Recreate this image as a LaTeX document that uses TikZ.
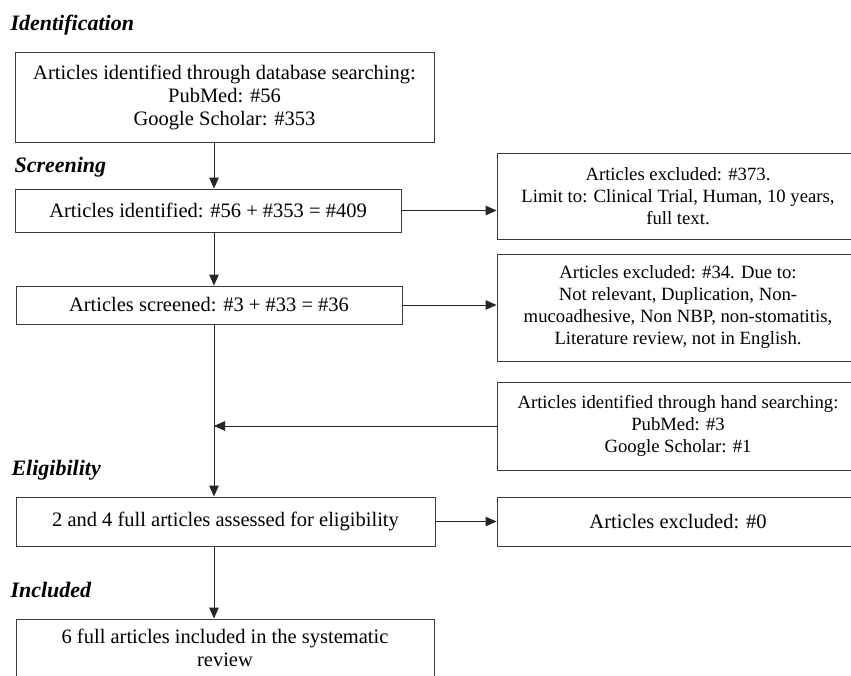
\documentclass[tikz,border=0pt]{standalone}
\usepackage{fontspec}
\setmainfont{Liberation Serif}
\usepackage{tikz}
\usetikzlibrary{arrows.meta, positioning}
\usepackage{xcolor}
\definecolor{flowline}{HTML}{3A3A3A}

\begin{document}
\begin{tikzpicture}[
    x=1pt, y=-1pt,
    box/.style={rectangle, draw=flowline, line width=0.9pt, align=center,
                inner sep=0pt, font=\fontsize{20.5}{23}\selectfont},
    sidebox/.style={box, font=\fontsize{18.7}{22}\selectfont},
    arr/.style={-{Triangle[length=11pt, width=9.5pt]}, line width=0.9pt, color=black!85},
    stage/.style={anchor=west, font=\fontsize{22}{24}\selectfont\bfseries\itshape}
  ]
    \useasboundingbox (0,0) rectangle (851,675);
    \coordinate (spine) at (214,0);

    %% Identification
    \node[stage] (lid) at (7,25) {Identification};
    \node[box, minimum width=419pt, minimum height=90pt] (dbsearch) at (224.5,97)
        {Articles identified through database searching:\\PubMed: \#56\\Google Scholar: \#353};

    %% Screening
    \node[stage] (lscr) at (11,167) {Screening};
    \node[box, minimum width=386pt, minimum height=43pt] (ident) at (208,210.5)
        {Articles identified: \#56 + \#353 = \#409};
    \node[sidebox, minimum width=362pt, minimum height=86pt] (excl1) at (678,196)
        {Articles excluded: \#373.\\Limit to: Clinical Trial, Human, 10 years,\\full text.};
    \node[box, minimum width=386pt, minimum height=38pt] (screen) at (209,305)
        {Articles screened: \#3 + \#33 = \#36};
    \node[sidebox, minimum width=362pt, minimum height=107pt] (excl2) at (678,307.5)
        {Articles excluded: \#34. Due to:\\Not relevant, Duplication, Non-\\mucoadhesive, Non NBP, non-stomatitis,\\Literature review, not in English.};
    \node[sidebox, minimum width=362pt, minimum height=88pt] (hand) at (678,426)
        {Articles identified through hand searching:\\PubMed: \#3\\Google Scholar: \#1};

    %% Eligibility
    \node[stage] (lelig) at (8,470) {Eligibility};
    \node[box, minimum width=419pt, minimum height=49pt] (assess) at (225.5,521.5)
        {2 and 4 full articles assessed for eligibility};
    \node[box, minimum width=362pt, minimum height=49pt] (excl3) at (678,521.5)
        {Articles excluded: \#0};

    %% Included
    \node[stage] (lincl) at (7,590) {Included};
    \node[box, minimum width=418pt, minimum height=57pt] (incl) at (225,647.5)
        {6 full articles included in the systematic\\review};

    \draw[arr] (dbsearch.south -| spine) -- (ident.north -| spine);
    \draw[arr] (ident.east) -- (ident.east -| excl1.west);
    \draw[arr] (ident.south -| spine) -- (screen.north -| spine);
    \draw[arr] (screen.east) -- (screen.east -| excl2.west);
    \draw[arr] (screen.south -| spine) -- (assess.north -| spine);
    \draw[arr] (hand.west) -- (hand.west -| spine);
    \draw[arr] (assess.east) -- (excl3.west);
    \draw[arr] (assess.south -| spine) -- (incl.north -| spine);
  \end{tikzpicture}
\end{document}
